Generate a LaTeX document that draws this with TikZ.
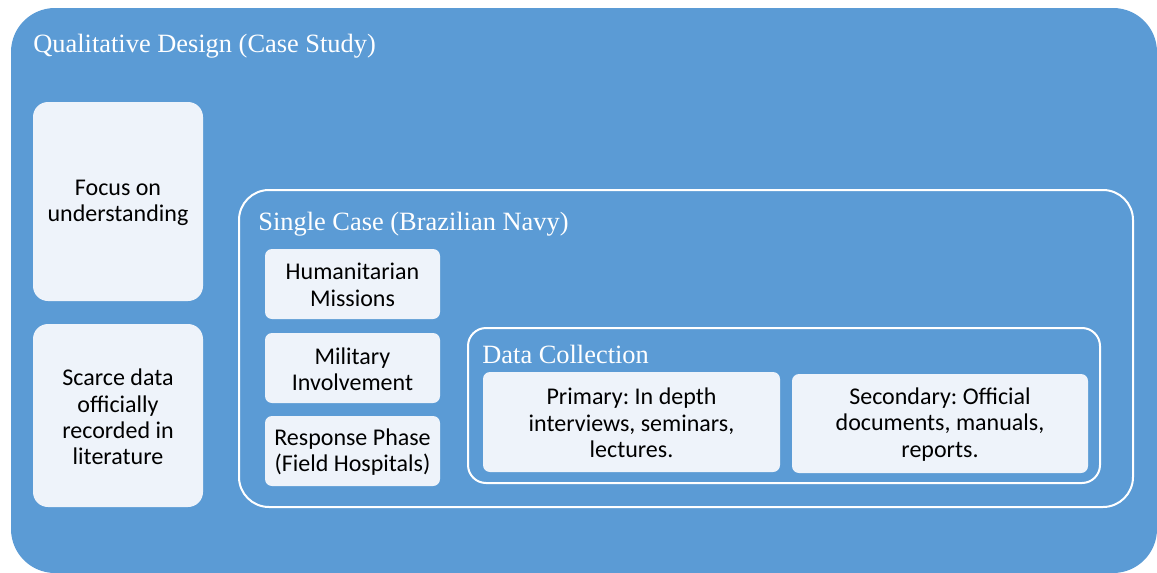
\documentclass[tikz,border=0pt]{standalone}
\usepackage{fontspec}
\setmainfont{Liberation Serif}
\newfontfamily\boxfont{Carlito}
\definecolor{caseblue}{RGB}{91,155,213}
\definecolor{boxfill}{RGB}{238,243,250}
\frenchspacing
\begin{document}
\begin{tikzpicture}[x=0.5pt, y=-0.5pt, line join=round,
    title/.style={anchor=base west, text=white, inner sep=0pt, font=\fontsize{13.2}{15}\selectfont},
    boxtext/.style={align=center, text=black, inner sep=0pt, font=\boxfont\fontsize{12}{13.2}\selectfont},
    inbox/.style={fill=boxfill, rounded corners=3.5pt},
    frame/.style={draw=white, line width=1pt, rounded corners=15pt}]

    \useasboundingbox (0,0) rectangle (1157,573);

    % outer box
    \fill[caseblue, rounded corners=22pt] (11,8) rectangle (1157,573);
    \node[title] (qual) at (33,52) {Qualitative Design (Case Study)};

    % left column
    \fill[inbox, rounded corners=7.5pt] (33,102) rectangle (203,301);
    \node[boxtext] (focus) at (118,203) {Focus on\\understanding};
    \fill[inbox, rounded corners=7.5pt] (33,324) rectangle (203,507);
    \node[boxtext] (scarce) at (118,417) {Scarce data\\officially\\recorded in\\literature};

    % single case
    \draw[frame] (239,190) rectangle (1133,507);
    \node[title] (single) at (258,230) {Single Case (Brazilian Navy)};
    \foreach \nm/\yt/\txt in {hum/249/{Humanitarian\\Missions}, mil/333/{Military\\Involvement}, resp/416/{Response Phase\\(Field Hospitals)}} {
        \fill[inbox] (265,\yt) rectangle (440,\yt+70);
        \node[boxtext] (\nm) at (352.5,\yt+36) {\txt};
    }

    % data collection
    \draw[frame, rounded corners=9pt] (468,328) rectangle (1100,483);
    \node[title] (data) at (482,363) {Data Collection};
    \fill[inbox] (483,372) rectangle (780,472);
    \node[boxtext] (prim) at (631.5,423) {Primary: In depth\\interviews, seminars,\\lectures.};
    \fill[inbox] (792,374) rectangle (1088,473);
    \node[boxtext] (sec) at (940,424.5) {Secondary: Official\\documents, manuals,\\reports.};

\end{tikzpicture}
\end{document}
